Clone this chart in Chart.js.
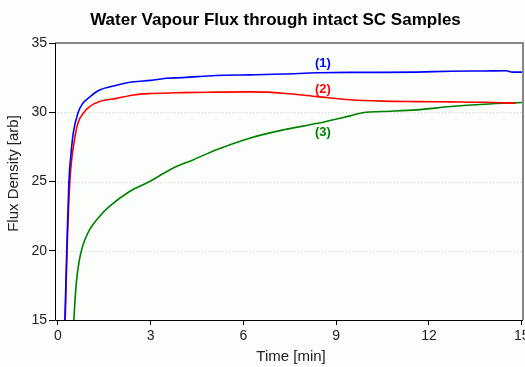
<!DOCTYPE html>
<html>
<head>
<meta charset="utf-8">
<script src="https://cdn.jsdelivr.net/npm/chart.js@4.4.0/dist/chart.umd.min.js"></script>
<style>
  html, body { margin: 0; padding: 0; background: #fbfefb; }
  canvas { display: block; }
</style>
</head>
<body>
<canvas id="c" width="525" height="367"></canvas>
<script>
// ---- data ----
const chartTitle = 'Water Vapour Flux through intact SC Samples';
const xTitle = 'Time [min]';
const yTitle = 'Flux Density [arb]';
const xTicks = [0, 3, 6, 9, 12, 15];
const yTicks = [15, 20, 25, 30, 35];

const timeBlue = [0.18, 0.23, 0.29, 0.36, 0.44, 0.50, 0.66, 0.81, 1.03, 1.35, 1.9, 2.45, 3.0, 3.5, 4.05, 5.1, 6.2, 7.3, 8.4, 9.45, 10.5, 11.6, 12.7, 13.8, 14.5, 14.7, 15.04];
const fluxBlue = [11.5, 15.0, 20.0, 25.0, 27.3, 28.5, 30.0, 30.65, 31.1, 31.6, 31.95, 32.2, 32.3, 32.45, 32.5, 32.65, 32.7, 32.76, 32.85, 32.88, 32.88, 32.9, 32.96, 32.98, 33.0, 32.9, 32.9];

const timeRed = [0.19, 0.24, 0.30, 0.39, 0.54, 0.65, 0.85, 1.03, 1.35, 1.9, 2.45, 3.0, 4.05, 5.1, 6.2, 6.8, 7.3, 8.4, 9.45, 10.5, 11.6, 12.7, 13.8, 14.8];
const fluxRed = [11.5, 15.0, 20.0, 25.0, 28.0, 29.2, 30.0, 30.4, 30.77, 31.0, 31.25, 31.35, 31.42, 31.45, 31.47, 31.45, 31.37, 31.13, 30.9, 30.8, 30.77, 30.75, 30.72, 30.65];

const timeGreen = [0.47, 0.52, 0.60, 0.70, 0.80, 0.97, 1.35, 1.67, 2.32, 2.97, 3.72, 4.37, 5.13, 6.2, 7.3, 8.4, 9.45, 9.9, 10.5, 11.6, 12.7, 13.8, 15.04];
const fluxGreen = [12.5, 15.0, 17.7, 19.35, 20.3, 21.28, 22.48, 23.2, 24.28, 25.0, 25.96, 26.56, 27.29, 28.13, 28.73, 29.2, 29.74, 29.98, 30.05, 30.17, 30.41, 30.58, 30.7];

const seriesLabels = ['(1)', '(2)', '(3)'];
const seriesColors = ['#0000ff', '#ff0000', '#008000'];
const labelTime = [8.57, 8.57, 8.57];
const labelFlux = [33.53, 31.66, 28.52];

const FONT = 'Arial, "Liberation Sans", sans-serif';
const zip = (xs, ys) => xs.map((x, i) => ({ x: x, y: ys[i] }));

const decor = {
  id: 'decor',
  beforeDraw(chart) {
    const ctx = chart.ctx;
    ctx.save();
    ctx.fillStyle = '#fbfefb';
    ctx.fillRect(0, 0, chart.width, chart.height);
    ctx.restore();
  },
  beforeDatasetsDraw(chart) {
    const { ctx, chartArea: a, scales } = chart;
    ctx.save();
    // dotted horizontal grid lines at inner ticks
    ctx.strokeStyle = '#d0d0d0';
    ctx.lineWidth = 1;
    ctx.setLineDash([1, 2]);
    yTicks.forEach(v => {
      if (v === scales.y.min || v === scales.y.max) return;
      const py = Math.round(scales.y.getPixelForValue(v)) + 0.5;
      ctx.beginPath(); ctx.moveTo(a.left, py); ctx.lineTo(a.right, py); ctx.stroke();
    });
    ctx.setLineDash([]);
    ctx.restore();
  },
  afterDatasetsDraw(chart) {
    const { ctx, chartArea: a, scales } = chart;
    ctx.save();
    // frame: gray top / right, black left / bottom
    ctx.strokeStyle = '#888888';
    ctx.lineWidth = 2;
    ctx.beginPath();
    ctx.moveTo(a.left, a.top); ctx.lineTo(a.right, a.top); ctx.lineTo(a.right, a.bottom);
    ctx.stroke();
    ctx.strokeStyle = '#000000';
    ctx.lineWidth = 1;
    ctx.beginPath();
    ctx.moveTo(a.left + 0.5, a.top); ctx.lineTo(a.left + 0.5, a.bottom + 0.5); ctx.lineTo(a.right, a.bottom + 0.5);
    ctx.stroke();

    // series labels
    ctx.font = 'bold 13px ' + FONT;
    ctx.textAlign = 'center';
    ctx.textBaseline = 'middle';
    seriesLabels.forEach((t, i) => {
      ctx.fillStyle = seriesColors[i];
      ctx.fillText(t, scales.x.getPixelForValue(labelTime[i]), scales.y.getPixelForValue(labelFlux[i]));
    });

    // titles
    ctx.fillStyle = '#000000';
    ctx.font = 'bold 17px ' + FONT;
    ctx.fillText(chartTitle, 275.5, 20.5);
    ctx.fillStyle = '#222222';
    ctx.font = '15px ' + FONT;
    ctx.fillText(xTitle, 291, 357);
    ctx.translate(14, 173.5);
    ctx.rotate(-Math.PI / 2);
    ctx.fillText(yTitle, 0, 0);
    ctx.restore();
  }
};

new Chart(document.getElementById('c'), {
  type: 'line',
  data: {
    datasets: [
      { label: seriesLabels[0], data: zip(timeBlue, fluxBlue), borderColor: seriesColors[0] },
      { label: seriesLabels[1], data: zip(timeRed, fluxRed), borderColor: seriesColors[1] },
      { label: seriesLabels[2], data: zip(timeGreen, fluxGreen), borderColor: seriesColors[2] }
    ]
  },
  options: {
    responsive: false,
    animation: false,
    devicePixelRatio: 1,
    layout: { padding: { top: 43, right: 2, left: 0, bottom: 0 } },
    elements: {
      line: { borderWidth: 1.6, cubicInterpolationMode: 'monotone', fill: false },
      point: { radius: 0, hoverRadius: 0 }
    },
    plugins: { legend: { display: false }, title: { display: false }, tooltip: { enabled: false } },
    scales: {
      x: {
        type: 'linear', min: -0.09, max: 15.04,
        afterBuildTicks: s => { s.ticks = xTicks.map(v => ({ value: v })); },
        afterFit: s => { s.height = 47; s.paddingLeft = 0; s.paddingRight = 0; },
        grid: { drawOnChartArea: false, drawTicks: true, tickLength: 5, tickColor: '#000', tickWidth: 1 },
        border: { display: false },
        ticks: { padding: 3, maxRotation: 0, autoSkip: false, color: '#222', font: { family: FONT, size: 14 } }
      },
      y: {
        type: 'linear', min: 15, max: 35,
        afterBuildTicks: s => { s.ticks = yTicks.map(v => ({ value: v })); },
        afterFit: s => { s.width = 55; s.paddingTop = 0; s.paddingBottom = 0; },
        grid: { drawOnChartArea: false, drawTicks: true, tickLength: 6, tickColor: '#000', tickWidth: 1 },
        border: { display: false },
        ticks: { padding: 2, color: '#222', font: { family: FONT, size: 14 } }
      }
    }
  },
  plugins: [decor]
});
</script>
</body>
</html>
